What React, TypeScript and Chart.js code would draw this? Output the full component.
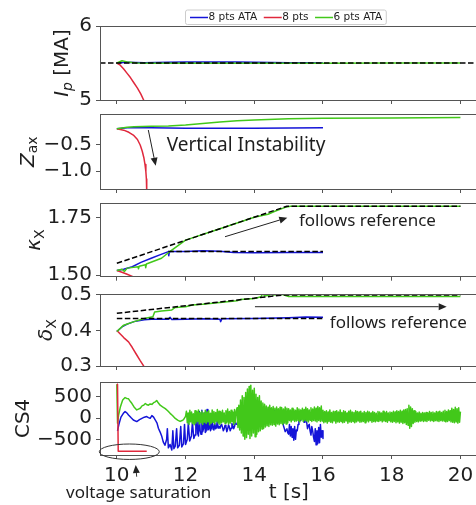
import React, { useEffect, useRef } from "react";
import { Chart, registerables } from "chart.js";
Chart.register(...registerables);

// ---------- axes ----------
const X_MIN = 9.51;
const X_MAX = 20.5;
const X_TICKS = [10, 12, 14, 16, 18, 20];
const IP_TICKS = [5, 6];
const Z_TICKS = [-1.0, -0.5];
const K_TICKS = [1.5, 1.75];
const D_TICKS = [0.3, 0.4, 0.5];
const CS_TICKS = [-500, 0, 500];

const SERIES = ["8 pts ATA", "8 pts", "6 pts ATA"];
const BLUE = "#1414d8";
const RED = "#e0283c";
const GREEN = "#42c81a";
const FRAME = "#555555";
const TXT = "#1e1e1e";

// ---------- Ip [MA] ----------
const ipRefT = [9.51, 20.5];
const ipRefV = [5.5, 5.5];
const ipBlueT = [10, 10.3, 10.8, 11.5, 12, 12.5, 13, 13.5, 14, 14.5, 15, 15.5, 16];
const ipBlueV = [5.5, 5.51, 5.505, 5.51, 5.512, 5.515, 5.512, 5.514, 5.51, 5.508, 5.505, 5.503, 5.5];
const ipRedT = [10, 10.1, 10.2, 10.3, 10.4, 10.5, 10.6, 10.7, 10.78, 10.85];
const ipRedV = [5.5, 5.47, 5.42, 5.36, 5.3, 5.23, 5.16, 5.08, 5.0, 4.93];
const ipGreenT = [10, 10.15, 10.3, 10.6, 11, 12, 14, 16, 18, 20];
const ipGreenV = [5.5, 5.53, 5.515, 5.5, 5.497, 5.497, 5.498, 5.498, 5.499, 5.5];

// ---------- Z_ax ----------
const zBlueT = [10, 10.15, 10.3, 11, 12, 13, 14, 15, 16];
const zBlueV = [-0.21, -0.2, -0.19, -0.19, -0.2, -0.2, -0.2, -0.195, -0.19];
const zRedT = [10, 10.2, 10.35, 10.48, 10.6, 10.68, 10.74, 10.79, 10.82, 10.845, 10.86, 10.87];
const zRedV = [-0.21, -0.235, -0.275, -0.326, -0.41, -0.513, -0.63, -0.762, -0.88, -1.013, -1.15, -1.4];
const zGreenT = [10, 10.3, 10.5, 11, 11.5, 12, 12.5, 13, 13.5, 14, 15, 16, 18, 20];
const zGreenV = [-0.21, -0.18, -0.17, -0.16, -0.155, -0.14, -0.11, -0.08, -0.06, -0.045, -0.02, -0.012, -0.005, 0.0];

// ---------- kappa_X ----------
const kRefAT = [10, 14.95, 20];
const kRefAV = [1.551, 1.8, 1.8];
const kRefBT = [11.5, 16];
const kRefBV = [1.602, 1.602];
const kBlueT = [10, 10.2, 10.45, 10.7, 11, 11.25, 11.5, 11.51, 11.53, 11.56, 12, 12.5, 13, 13.4, 14, 15, 16];
const kBlueV = [1.52, 1.525, 1.536, 1.555, 1.573, 1.588, 1.602, 1.584, 1.6, 1.602, 1.603, 1.606, 1.604, 1.598, 1.597, 1.598, 1.598];
const kRedT = [10, 10.15, 10.3, 10.45, 10.6];
const kRedV = [1.52, 1.512, 1.503, 1.494, 1.485];
const kGreenT = [10, 10.15, 10.22, 10.3, 10.62, 10.63, 10.65, 10.83, 10.84, 10.86, 11.3, 11.6, 12, 13, 14, 14.4, 14.6, 14.9, 15.05, 20];
const kGreenV = [1.52, 1.525, 1.515, 1.53, 1.536, 1.527, 1.538, 1.545, 1.532, 1.548, 1.573, 1.609, 1.652, 1.702, 1.752, 1.765, 1.778, 1.795, 1.8, 1.8];

// ---------- delta_X ----------
const dRefAT = [10, 14.85, 20];
const dRefAV = [0.4485, 0.5, 0.5];
const dRefBT = [10, 16];
const dRefBV = [0.434, 0.434];
const dBlueT = [10, 10.15, 10.3, 10.5, 10.8, 11, 11.5, 11.55, 11.6, 12, 12.5, 13, 13.02, 13.06, 14, 15, 15.5, 16];
const dBlueV = [0.397, 0.41, 0.418, 0.425, 0.43, 0.432, 0.432, 0.437, 0.431, 0.432, 0.433, 0.432, 0.425, 0.433, 0.434, 0.436, 0.438, 0.437];
const dRedT = [10, 10.1, 10.2, 10.34, 10.45, 10.58, 10.68, 10.78, 10.85];
const dRedV = [0.4, 0.39, 0.38, 0.368, 0.352, 0.331, 0.315, 0.3, 0.285];
const dGreenT = [10, 10.2, 10.5, 10.8, 11.05, 11.1, 11.3, 11.6, 11.7, 12, 12.2, 12.5, 13, 13.5, 13.6, 14, 14.2, 14.25, 14.3, 14.45, 14.5, 14.55, 14.8, 15, 20];
const dGreenV = [0.397, 0.415, 0.425, 0.434, 0.439, 0.452, 0.455, 0.458, 0.465, 0.467, 0.472, 0.474, 0.479, 0.484, 0.487, 0.49, 0.495, 0.506, 0.497, 0.5, 0.506, 0.5, 0.502, 0.496, 0.496];

// ---------- CS4 ----------
const csRedT = [10, 10.02, 10.04, 10.87];
const csRedV = [800, 790, -780, -780];
const csGreenT = [10.0, 10.02, 10.05, 10.1, 10.17, 10.24, 10.3, 10.34, 10.4, 10.44, 10.5, 10.58, 10.63, 10.68, 10.74, 10.78, 10.83, 10.88, 10.92, 10.97, 11.02, 11.07, 11.12, 11.16, 11.21, 11.26, 11.33, 11.41, 11.48, 11.55, 11.62, 11.7, 11.77, 11.84, 11.9, 11.94, 12.0];
const csGreenV = [790, -120, 60, 250, 420, 480, 455, 450, 380, 340, 260, 190, 210, 230, 290, 300, 340, 310, 300, 330, 320, 360, 380, 410, 350, 300, 260, 220, 170, 110, 60, -10, -50, -80, -60, -40, 40];
// sampled (fast) part of the signals: time base start and step
const csDt = 0.025;
const csGreenSampT0 = 12.025;
const csGreenSamp = [
  // 12.025 - 13.475
  160, -110, 120, -150, 180, -90, 140, -130, 100, -160,
  170, -120, 150, -80, 190, -140, 130, -110, 160, -150,
  120, -100, 180, -130, 140, -90, 170, -160, 110, -120,
  190, -100, 150, -140, 130, -80, 200, -120, 160, -150,
  140, -110, 180, -90, 120, -130, 170, -100, 210, -140,
  150, -120, 180, -90, 140, -150, 200, -110, 160,
  // 13.5 - 14.275
  240, -220, 300, -280, 420, -350, 520, -420, 480, -500, 600, -460, 680, -380, 740, -480,
  770, -420, 650, -350, 700, -440, 560, -380, 480, -320, 520, -300, 400, -260, 350, -240,
  // 14.3 - 14.975
  320, -210, 280, -180, 250, -200, 300, -160, 240, -170,
  270, -150, 230, -190, 260, -140, 220, -160, 250, -130,
  240, -150, 210, -120, 260, -140, 230, -110,
  // 15.0 - 15.975
  220, -60, 190, -90, 230, -50, 200, -80, 180, -70,
  240, -60, 210, -90, 190, -40, 230, -80, 200, -60,
  250, -70, 220, -90, 190, -50, 240, -80, 210, -60,
  260, -70, 230, -90, 270, -60, 240, -80, 280, -70,
  // 16.0 - 20.0
  180, -110, 150, -90, 170, -120, 140, -80, 190, -100, 130, -110, 160, -70, 150, -120, 170, -90, 140, -100,
  190, -80, 130, -110, 170, -100, 150, -70, 120, -120, 160, -90, 180, -100, 140, -80, 130, -110, 170, -90,
  150, -70, 140, -100, 160, -90, 120, -80, 150, -110, 130, -70, 160, -90, 140, -60, 120, -100, 150, -80,
  130, -90, 110, -70, 150, -80, 140, -60, 120, -90, 160, -70, 130, -80, 150, -100, 120, -60, 140, -90,
  130, -100, 160, -80, 140, -110, 170, -90, 150, -120, 180, -100, 160, -130, 190, -110, 200, -150, 220, -170,
  300, -240, 260, -200, 220, -130, 170, -100, 150, -80, 120, -90, 140, -70, 110, -60, 130, -80, 120, -70,
  130, -80, 120, -50, 150, -70, 130, -60, 140, -80, 120, -60, 150, -70, 140, -80, 160, -60, 130, -70,
  160, -70, 180, -90, 150, -80, 190, -60, 170, -90, 230, -100, 200, -110, 250, -90, 220, -120, 240, -100,
  150,
];
const csBlueT = [10.02, 10.06, 10.12, 10.19, 10.24, 10.29, 10.34, 10.41, 10.48, 10.58, 10.66, 10.73, 10.8, 10.87, 10.92, 10.97, 11.02, 11.07, 11.12, 11.17, 11.21, 11.26, 11.31, 11.35, 11.4, 11.45, 11.47, 11.5, 11.55, 11.6, 11.63, 11.66, 11.7, 11.74, 11.77, 11.82, 11.86, 11.89, 11.94, 11.97, 12.0, 12.05, 12.08, 12.12, 12.17, 12.2, 12.24];
const csBlueV = [-300, -150, 20, 110, 150, 120, 70, 10, -47, -84, -40, -7, 20, 33, 10, -7, 56, 20, -47, -120, -241, -330, -436, -560, -640, -500, -250, -700, -620, -750, -300, -720, -660, -250, -700, -640, -200, -680, -600, -150, -620, -500, -120, -540, -420, -100, -480];
const csBlueSampT0 = 12.275;
const csBlueSamp = [
  // 12.275 - 12.975
  -400, -150, 100, -350, -420, 150, -300, -380, 180, -320,
  -250, 120, -340, -300, 200, -280, -260, 50, -300, -240,
  0, -260, -280, -120, -250, -230, -50, -240, -200,
  // 13.0 - 13.475
  -240, -180, -150, -220, -300, -250, -170, -200, -320, -260, -160, -210, -300, -240, -130, -180, -250, -200, -90, -140,
  // 13.5 - 13.975
  -150, -60, -20, -110, -100, 20, 30, -60, -60, 40, -30, 20, -10, 60, 30, -20, -10, 80, 40, 10,
  // 14.0 - 14.475
  20, 100, 60, 40, 100, 150, 80, 120, 160, 90, 60, 180, 140, 100, 90, 200, 150, 110, 80, 220,
  // 14.5 - 14.975
  100, 160, 200, 120, 180, 140, 100, 180, 60, 120, 150, 80, -40, -100, -180, -250, -320, -280, -250, -350,
  // 15.0 - 15.475
  -380, -150, -420, -200, -450, -250, -520, -200, -500, -280, -300, -150, 100, 20, -60, 60, 120, -20, -100, 50,
  // 15.5 - 15.975
  150, -100, -250, -180, -150, -300, -400, -200, -300, -450, -550, -250, -630, -300, -600, -220, -580, -150, -450, -300,
  // 16.0
  -480,
];

type Pt = { x: number; y: number };
const pts = (t: number[], v: number[]): Pt[] => t.map((x, i) => ({ x, y: v[i] }));
const sampled = (t0: number, dt: number, v: number[]): Pt[] =>
  v.map((y, i) => ({ x: Math.round((t0 + i * dt) * 1000) / 1000, y }));

type Part = { text: string; italic?: boolean; sub?: boolean };
type Ann =
  | { kind: "arrow"; t1: number; v1: number; t2: number; v2: number }
  | { kind: "text"; t: number; v: number; text: string; size: number; align: CanvasTextAlign }
  | { kind: "ellipse"; t: number; v: number; rt: number; rv: number };

type Panel = {
  top: number;
  bottom: number;
  yMin: number;
  yMax: number;
  yTicks: number[];
  fmt: (v: number) => string;
  label: Part[];
  labelX: number;
  series: { data: Pt[]; color: string; dashed?: boolean; label?: string; order: number }[];
  ann: Ann[];
  legend?: boolean;
};

const minus = (s: string) => s.replace("-", "\u2212");

const PANELS: Panel[] = [
  {
    top: 26, bottom: 100, yMin: 5, yMax: 6, yTicks: IP_TICKS,
    fmt: (v) => v.toFixed(0),
    label: [{ text: "I", italic: true }, { text: "p", italic: true, sub: true }, { text: " [MA]" }],
    labelX: 63,
    series: [
      { data: pts(ipBlueT, ipBlueV), color: BLUE, label: SERIES[0], order: 3 },
      { data: pts(ipRedT, ipRedV), color: RED, label: SERIES[1], order: 2 },
      { data: pts(ipGreenT, ipGreenV), color: GREEN, label: SERIES[2], order: 1 },
      { data: pts(ipRefT, ipRefV), color: "#000", dashed: true, order: 0 },
    ],
    ann: [],
    legend: true,
  },
  {
    top: 114.3, bottom: 189, yMin: -1.337, yMax: 0.062, yTicks: Z_TICKS,
    fmt: (v) => minus(v.toFixed(1)),
    label: [{ text: "Z", italic: true }, { text: "ax", sub: true }],
    labelX: 28.5,
    series: [
      { data: pts(zBlueT, zBlueV), color: BLUE, order: 3 },
      { data: pts(zRedT, zRedV), color: RED, order: 2 },
      { data: pts(zGreenT, zGreenV), color: GREEN, order: 1 },
    ],
    ann: [
      { kind: "arrow", t1: 10.916, v1: -0.232, t2: 11.131, v2: -0.901 },
      { kind: "text", t: 11.45, v: -0.626, text: "Vertical Instability", size: 19, align: "left" },
    ],
  },
  {
    top: 203.3, bottom: 276.7, yMin: 1.4926, yMax: 1.8128, yTicks: K_TICKS,
    fmt: (v) => v.toFixed(2),
    label: [{ text: "\u03ba", italic: true }, { text: "X", sub: true }],
    labelX: 35,
    series: [
      { data: pts(kBlueT, kBlueV), color: BLUE, order: 3 },
      { data: pts(kRedT, kRedV), color: RED, order: 2 },
      { data: pts(kGreenT, kGreenV), color: GREEN, order: 1 },
      { data: pts(kRefAT, kRefAV), color: "#000", dashed: true, order: 0 },
      { data: pts(kRefBT, kRefBV), color: "#000", dashed: true, order: 0 },
    ],
    ann: [
      { kind: "arrow", t1: 13.148, v1: 1.667, t2: 14.961, v2: 1.75 },
      { kind: "text", t: 15.3, v: 1.715, text: "follows reference", size: 17, align: "left" },
    ],
  },
  {
    top: 294, bottom: 366, yMin: 0.3, yMax: 0.5028, yTicks: D_TICKS,
    fmt: (v) => v.toFixed(1),
    label: [{ text: "\u03b4", italic: true }, { text: "X", sub: true }],
    labelX: 47,
    series: [
      { data: pts(dBlueT, dBlueV), color: BLUE, order: 3 },
      { data: pts(dRedT, dRedV), color: RED, order: 2 },
      { data: pts(dGreenT, dGreenV), color: GREEN, order: 1 },
      { data: pts(dRefAT, dRefAV), color: "#000", dashed: true, order: 0 },
      { data: pts(dRefBT, dRefBV), color: "#000", dashed: true, order: 0 },
    ],
    ann: [
      { kind: "arrow", t1: 14.02, v1: 0.467, t2: 19.6, v2: 0.467 },
      { kind: "text", t: 16.2, v: 0.406, text: "follows reference", size: 17, align: "left" },
    ],
  },
  {
    top: 381.7, bottom: 455, yMin: -868, yMax: 852, yTicks: CS_TICKS,
    fmt: (v) => minus(v.toFixed(0)),
    label: [{ text: "CS4" }],
    labelX: 24,
    series: [
      { data: [...pts(csBlueT, csBlueV), ...sampled(csBlueSampT0, csDt, csBlueSamp)], color: BLUE, order: 3 },
      { data: pts(csRedT, csRedV), color: RED, order: 1 },
      { data: [...pts(csGreenT, csGreenV), ...sampled(csGreenSampT0, csDt, csGreenSamp)], color: GREEN, order: 2 },
    ],
    ann: [
      { kind: "ellipse", t: 10.363, v: -791, rt: 0.873, rv: 181 },
      { kind: "arrow", t1: 10.578, v1: -1378, t2: 10.549, v2: -1103 },
      { kind: "text", t: 10.636, v: -1885, text: "voltage saturation", size: 17, align: "center" },
    ],
  },
];

const W = 482;
const H = 505;
const TICK_FONT = { family: "DejaVu Sans", size: 20 };

function partFont(p: Part) {
  const size = p.sub ? 14 : 20;
  return `${p.italic ? "italic " : ""}${size}px "DejaVu Sans"`;
}

function arrow(ctx: CanvasRenderingContext2D, x1: number, y1: number, x2: number, y2: number) {
  const ang = Math.atan2(y2 - y1, x2 - x1);
  const hl = 8, hw = 3.5;
  const bx = x2 - hl * Math.cos(ang), by = y2 - hl * Math.sin(ang);
  ctx.beginPath();
  ctx.moveTo(x1, y1);
  ctx.lineTo(bx, by);
  ctx.stroke();
  ctx.beginPath();
  ctx.moveTo(x2, y2);
  ctx.lineTo(bx + hw * Math.sin(ang), by - hw * Math.cos(ang));
  ctx.lineTo(bx - hw * Math.sin(ang), by + hw * Math.cos(ang));
  ctx.closePath();
  ctx.fill();
}

function decoPlugin(p: Panel) {
  return {
    id: "deco",
    afterDatasetsDraw(chart: any) {
      const { ctx, chartArea: a } = chart;
      ctx.save();
      ctx.strokeStyle = FRAME;
      ctx.lineWidth = 1;
      ctx.strokeRect(Math.round(a.left) + 0.5, Math.round(a.top) + 0.5, Math.round(a.right - a.left), Math.round(a.bottom - a.top));
      ctx.restore();
    },
    afterDraw(chart: any) {
      const { ctx, chartArea: a, scales } = chart;
      const sx = scales.x, sy = scales.y;
      ctx.save();
      // y label (rotated, with subscripts)
      ctx.translate(p.labelX, (a.top + a.bottom) / 2);
      ctx.rotate(-Math.PI / 2);
      ctx.fillStyle = TXT;
      ctx.textBaseline = "middle";
      const widths = p.label.map((part) => {
        ctx.font = partFont(part);
        return ctx.measureText(part.text).width;
      });
      let x = -widths.reduce((s, w) => s + w, 0) / 2;
      p.label.forEach((part, i) => {
        ctx.font = partFont(part);
        ctx.fillText(part.text, x, part.sub ? 5 : 0);
        x += widths[i];
      });
      ctx.restore();

      // annotations
      ctx.save();
      ctx.strokeStyle = "#222";
      ctx.fillStyle = "#222";
      ctx.lineWidth = 1;
      for (const an of p.ann) {
        if (an.kind === "arrow") {
          arrow(ctx, sx.getPixelForValue(an.t1), sy.getPixelForValue(an.v1), sx.getPixelForValue(an.t2), sy.getPixelForValue(an.v2));
        } else if (an.kind === "ellipse") {
          const cx = sx.getPixelForValue(an.t), cy = sy.getPixelForValue(an.v);
          const rx = Math.abs(sx.getPixelForValue(an.t + an.rt) - cx);
          const ry = Math.abs(sy.getPixelForValue(an.v + an.rv) - cy);
          ctx.strokeStyle = "#333";
          ctx.beginPath();
          ctx.ellipse(cx, cy, rx, ry, 0, 0, Math.PI * 2);
          ctx.stroke();
        } else {
          ctx.font = `${an.size}px "Noto Sans"`;
          ctx.fillStyle = TXT;
          ctx.textAlign = an.align;
          ctx.textBaseline = "alphabetic";
          ctx.fillText(an.text, sx.getPixelForValue(an.t), sy.getPixelForValue(an.v));
        }
      }
      ctx.restore();

      // legend
      if (p.legend) {
        ctx.save();
        ctx.font = '10.5px "DejaVu Sans"';
        const items = chart.data.datasets.filter((d: any) => d.label);
        const ly = 17.5;
        let lx = 190;
        const segs: { x: number; w: number; d: any }[] = [];
        for (const d of items) {
          const w = ctx.measureText(d.label).width;
          segs.push({ x: lx, w, d });
          lx += 18.5 + w + 6.5;
        }
        const boxL = 185.5, boxR = lx - 6.5 + 4, boxT = 10, boxB = 24.5;
        ctx.fillStyle = "rgba(255,255,255,0.85)";
        ctx.strokeStyle = "#cccccc";
        ctx.lineWidth = 1;
        ctx.beginPath();
        (ctx as any).roundRect(boxL, boxT, boxR - boxL, boxB - boxT, 2);
        ctx.fill();
        ctx.stroke();
        for (const s of segs) {
          ctx.strokeStyle = s.d.borderColor;
          ctx.lineWidth = 1.5;
          ctx.beginPath();
          ctx.moveTo(s.x, ly);
          ctx.lineTo(s.x + 18, ly);
          ctx.stroke();
          ctx.fillStyle = TXT;
          ctx.textBaseline = "middle";
          ctx.fillText(s.d.label, s.x + 18.5, ly);
        }
        ctx.restore();
      }
    },
  };
}

function makeConfig(p: Panel, isLast: boolean): any {
  const xh = isLast ? 50 : 10;
  return {
    type: "line",
    data: {
      datasets: p.series.map((s) => ({
        label: s.label || "",
        data: s.data,
        borderColor: s.color,
        backgroundColor: s.color,
        borderWidth: 1.5,
        borderDash: s.dashed ? [5.5, 2.5] : [],
        borderJoinStyle: "round",
        pointRadius: 0,
        pointHoverRadius: 0,
        fill: false,
        tension: 0,
        order: s.order,
      })),
    },
    options: {
      animation: false,
      responsive: false,
      devicePixelRatio: 1,
      events: [],
      layout: { padding: { left: 0, right: W - 477.6, top: p.top, bottom: H - p.bottom - xh } },
      plugins: { legend: { display: false }, tooltip: { enabled: false }, title: { display: false } },
      scales: {
        x: {
          type: "linear",
          min: X_MIN,
          max: X_MAX,
          afterBuildTicks: (s: any) => { s.ticks = X_TICKS.map((value) => ({ value })); },
          afterFit: (s: any) => { s.height = xh; },
          grid: { drawOnChartArea: false, drawTicks: true, tickLength: 4, color: FRAME },
          border: { display: false },
          ticks: { display: isLast, font: TICK_FONT, color: TXT, padding: 5, maxRotation: 0, autoSkip: false, callback: (v: number) => String(v) },
          title: { display: isLast, text: "t [s]", font: TICK_FONT, color: TXT, padding: 0 },
        },
        y: {
          type: "linear",
          min: p.yMin,
          max: p.yMax,
          afterBuildTicks: (s: any) => { s.ticks = p.yTicks.map((value) => ({ value })); },
          afterFit: (s: any) => { s.width = 100; },
          grid: { drawOnChartArea: false, drawTicks: true, tickLength: 4, color: FRAME },
          border: { display: false },
          ticks: { font: TICK_FONT, color: TXT, padding: 4, autoSkip: false, callback: (v: number) => p.fmt(v) },
        },
      },
    },
    plugins: [decoPlugin(p)],
  };
}

export default function App() {
  const refs = useRef<(HTMLCanvasElement | null)[]>([]);
  useEffect(() => {
    const charts = PANELS.map((p, i) => new Chart(refs.current[i] as HTMLCanvasElement, makeConfig(p, i === PANELS.length - 1)));
    return () => charts.forEach((c) => c.destroy());
  }, []);
  return (
    <div style={{ position: "absolute", left: 0, top: 0, width: 476, height: 505, overflow: "hidden", background: "#fff" }}>
      {PANELS.map((_, i) => (
        <canvas
          key={i}
          ref={(el) => { refs.current[i] = el; }}
          width={W}
          height={H}
          style={{ position: "absolute", left: 0, top: 0, width: W, height: H }}
        />
      ))}
    </div>
  );
}
